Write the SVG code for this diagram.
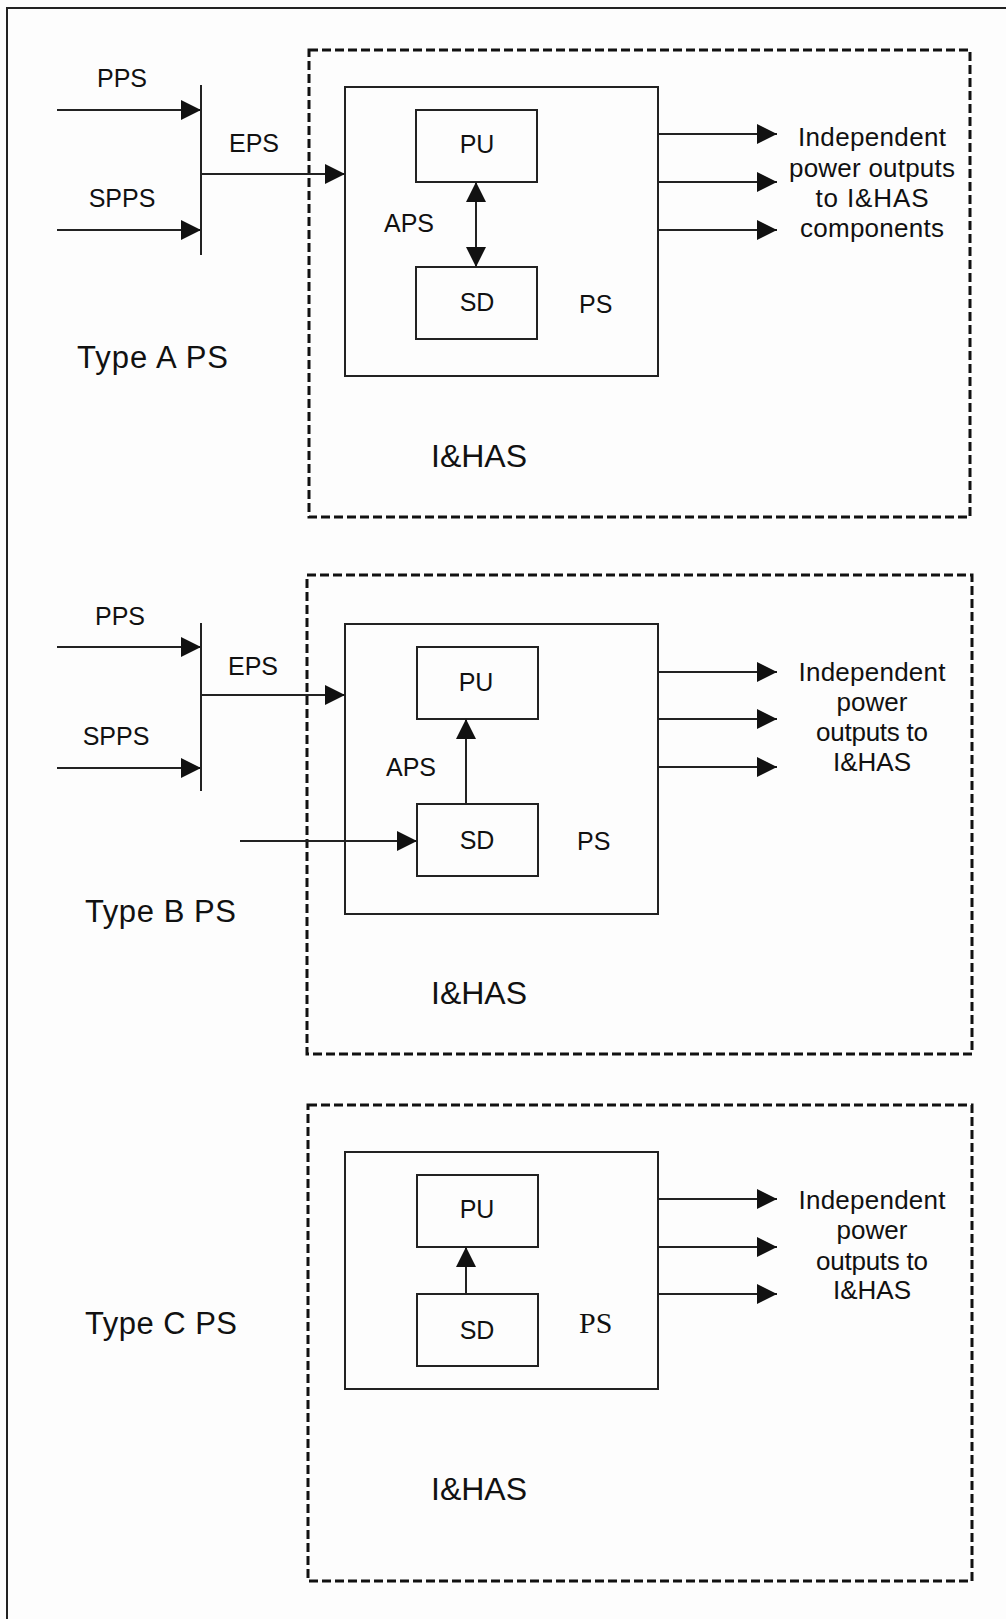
<svg xmlns="http://www.w3.org/2000/svg" width="1006" height="1619" viewBox="0 0 1006 1619">
<style>
  .bg{fill:#fdfdfd}
  .frame{fill:none;stroke:#222;stroke-width:2}
  .dash{fill:none;stroke:#111;stroke-width:3;stroke-dasharray:9 4}
  .box{fill:none;stroke:#222;stroke-width:2}
  .ln{fill:none;stroke:#222;stroke-width:2}
  .arr{fill:none;stroke:#222;stroke-width:2;marker-end:url(#ah)}
  .t{font-family:"Liberation Sans",Arial,sans-serif;font-size:25px;fill:#111}
  .tm{text-anchor:middle}
  .big{font-family:"Liberation Sans",Arial,sans-serif;font-size:31px;fill:#111}
  .out{font-family:"Liberation Sans",Arial,sans-serif;font-size:26px;fill:#111;text-anchor:middle}
  .serif{font-family:"Liberation Serif","Times New Roman",serif;font-size:30px;fill:#111}
</style>
<defs>
  <marker id="ah" markerUnits="userSpaceOnUse" markerWidth="20" markerHeight="20" refX="20" refY="10" orient="auto-start-reverse">
    <path d="M0,0 L20,10 L0,20 Z" fill="#111"/>
  </marker>
</defs>
<rect class="bg" x="0" y="0" width="1006" height="1619"/>
<rect class="frame" x="7" y="8" width="1020" height="1640"/>

<!-- ===== Type A ===== -->
<g id="typeA-label"><text class="big" x="77" y="368" textLength="151" lengthAdjust="spacing">Type A PS</text></g>
<g id="typeA-ihas">
  <rect class="dash" x="309" y="50" width="661" height="467"/>
  <text class="big" x="479" y="467" text-anchor="middle" style="font-size:32px">I&amp;HAS</text>
</g>
<g id="typeA-ps">
  <rect class="box" x="345" y="87" width="313" height="289"/>
  <text class="t" x="579" y="313">PS</text>
  <text class="t" x="384" y="232">APS</text>
</g>
<g id="typeA-pu"><rect class="box" x="416" y="110" width="121" height="72"/><text class="t tm" x="477" y="153">PU</text></g>
<g id="typeA-sd"><rect class="box" x="416" y="267" width="121" height="72"/><text class="t tm" x="477" y="311">SD</text></g>
<g id="typeA-inputs">
  <text class="t tm" x="122" y="87">PPS</text>
  <text class="t tm" x="122" y="207">SPPS</text>
  <text class="t tm" x="254" y="152">EPS</text>
</g>
<g id="typeA-outputs-label">
  <text class="out" x="872" y="146" textLength="148" lengthAdjust="spacing">Independent</text>
  <text class="out" x="872" y="177" textLength="166" lengthAdjust="spacing">power outputs</text>
  <text class="out" x="872" y="207" textLength="113" lengthAdjust="spacing">to I&amp;HAS</text>
  <text class="out" x="872" y="237" textLength="144" lengthAdjust="spacing">components</text>
</g>

<!-- ===== Type B ===== -->
<g id="typeB-label"><text class="big" x="85" y="922" textLength="151" lengthAdjust="spacing">Type B PS</text></g>
<g id="typeB-ihas">
  <rect class="dash" x="307" y="575" width="665" height="479"/>
  <text class="big" x="479" y="1004" text-anchor="middle" style="font-size:32px">I&amp;HAS</text>
</g>
<g id="typeB-ps">
  <rect class="box" x="345" y="624" width="313" height="290"/>
  <text class="t" x="577" y="850">PS</text>
  <text class="t" x="386" y="776">APS</text>
</g>
<g id="typeB-pu"><rect class="box" x="417" y="647" width="121" height="72"/><text class="t tm" x="476" y="691">PU</text></g>
<g id="typeB-sd"><rect class="box" x="417" y="804" width="121" height="72"/><text class="t tm" x="477" y="849">SD</text></g>
<g id="typeB-inputs">
  <text class="t tm" x="120" y="625">PPS</text>
  <text class="t tm" x="116" y="745">SPPS</text>
  <text class="t tm" x="253" y="675">EPS</text>
</g>
<g id="typeB-outputs-label">
  <text class="out" x="872" y="681" textLength="147" lengthAdjust="spacing">Independent</text>
  <text class="out" x="872" y="711">power</text>
  <text class="out" x="872" y="741" textLength="112" lengthAdjust="spacing">outputs to</text>
  <text class="out" x="872" y="771">I&amp;HAS</text>
</g>

<!-- ===== Type C ===== -->
<g id="typeC-label"><text class="big" x="85" y="1334" textLength="152" lengthAdjust="spacing">Type C PS</text></g>
<g id="typeC-ihas">
  <rect class="dash" x="308" y="1105" width="664" height="476"/>
  <text class="big" x="479" y="1500" text-anchor="middle" style="font-size:32px">I&amp;HAS</text>
</g>
<g id="typeC-ps">
  <rect class="box" x="345" y="1152" width="313" height="237"/>
  <text class="serif" x="579" y="1333">PS</text>
</g>
<g id="typeC-pu"><rect class="box" x="417" y="1175" width="121" height="72"/><text class="t tm" x="477" y="1218">PU</text></g>
<g id="typeC-sd"><rect class="box" x="417" y="1294" width="121" height="72"/><text class="t tm" x="477" y="1339">SD</text></g>
<g id="typeC-outputs-label">
  <text class="out" x="872" y="1209" textLength="147" lengthAdjust="spacing">Independent</text>
  <text class="out" x="872" y="1239">power</text>
  <text class="out" x="872" y="1270" textLength="112" lengthAdjust="spacing">outputs to</text>
  <text class="out" x="872" y="1299">I&amp;HAS</text>
</g>

<!-- ===== Connectors ===== -->
<g id="connectors">
  <!-- Type A -->
  <line class="arr" x1="57" y1="110" x2="201" y2="110"/>
  <line class="arr" x1="57" y1="230" x2="201" y2="230"/>
  <line class="ln" x1="201" y1="85" x2="201" y2="255"/>
  <line class="arr" x1="201" y1="174" x2="345" y2="174"/>
  <line class="ln" x1="476" y1="182" x2="476" y2="267" style="marker-start:url(#ah);marker-end:url(#ah)"/>
  <line class="arr" x1="658" y1="134" x2="777" y2="134"/>
  <line class="arr" x1="658" y1="182" x2="777" y2="182"/>
  <line class="arr" x1="658" y1="230" x2="777" y2="230"/>
  <!-- Type B -->
  <line class="arr" x1="57" y1="647" x2="201" y2="647"/>
  <line class="arr" x1="57" y1="768" x2="201" y2="768"/>
  <line class="ln" x1="201" y1="623" x2="201" y2="791"/>
  <line class="arr" x1="201" y1="695" x2="345" y2="695"/>
  <line class="arr" x1="240" y1="841" x2="417" y2="841"/>
  <line class="arr" x1="466" y1="804" x2="466" y2="719"/>
  <line class="arr" x1="658" y1="672" x2="777" y2="672"/>
  <line class="arr" x1="658" y1="719" x2="777" y2="719"/>
  <line class="arr" x1="658" y1="767" x2="777" y2="767"/>
  <!-- Type C -->
  <line class="arr" x1="466" y1="1294" x2="466" y2="1247"/>
  <line class="arr" x1="658" y1="1199" x2="777" y2="1199"/>
  <line class="arr" x1="658" y1="1247" x2="777" y2="1247"/>
  <line class="arr" x1="658" y1="1294" x2="777" y2="1294"/>
</g>
</svg>
